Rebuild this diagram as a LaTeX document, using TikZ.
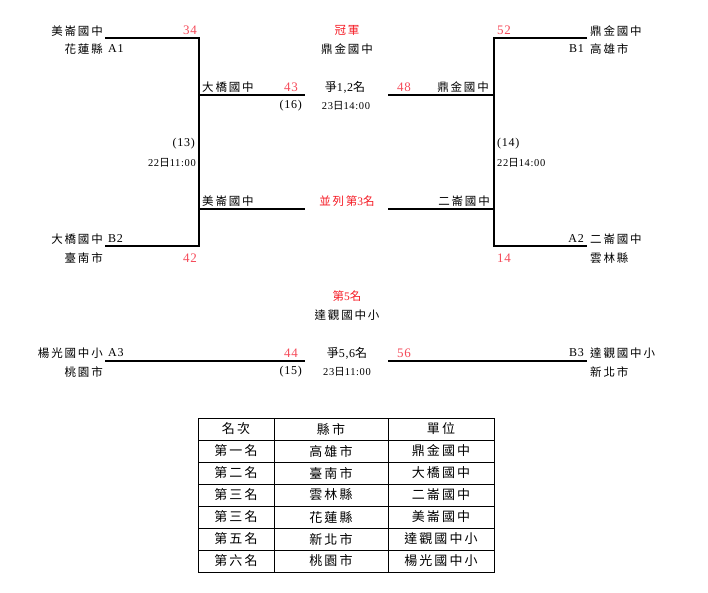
\documentclass[tikz,border=0pt]{standalone}
\usepackage{fontspec}
\setmainfont{Liberation Serif}[LetterSpace=6]
\newfontfamily\zhfont[LetterSpace=16]{Noto Sans CJK TC}
\newcommand{\zh}[1]{{\zhfont #1}}
\definecolor{scorered}{RGB}{245,75,90}
\definecolor{titlered}{RGB}{245,25,35}

\begin{document}
\begin{tikzpicture}[x=1pt, y=-1pt,
   team/.style={font=\zhfont\fontsize{11.5}{11.5}\selectfont, inner sep=0pt},
   seed/.style={font=\fontsize{12}{12}\selectfont, inner sep=0pt},
   score/.style={text=scorered, font=\fontsize{13}{13}\selectfont, inner sep=0pt},
   note/.style={font=\fontsize{10.5}{10.5}\selectfont, inner sep=0pt},
   game/.style={font=\fontsize{12}{12}\selectfont, inner sep=0pt},
   title/.style={text=titlered, font=\fontsize{11.5}{11.5}\selectfont, inner sep=0pt},
   cell/.style={font=\zhfont\fontsize{13}{13}\selectfont, inner sep=0pt},
   bracket/.style={line width=1.2pt}]
   \useasboundingbox (0,0) rectangle (708,592);

   % bracket corners
   \coordinate (A1) at (105,38);
   \coordinate (B2) at (105,246);
   \coordinate (L1) at (199,38);
   \coordinate (L2) at (199,246);
   \coordinate (L3) at (199,95);
   \coordinate (L4) at (199,209);
   \coordinate (M1) at (305,95);
   \coordinate (M2) at (305,209);
   \coordinate (M3) at (388,95);
   \coordinate (M4) at (388,209);
   \coordinate (R3) at (494,95);
   \coordinate (R4) at (494,209);
   \coordinate (R1) at (494,38);
   \coordinate (R2) at (494,246);
   \coordinate (B1) at (587,38);
   \coordinate (A2) at (587,246);
   \coordinate (A3) at (105,361);
   \coordinate (M5) at (305,361);
   \coordinate (M6) at (388,361);
   \coordinate (B3) at (587,361);

   \draw[bracket] (A1) -- (L1) -- (L2) -- (B2);
   \draw[bracket] (L3) -- (M1);
   \draw[bracket] (L4) -- (M2);
   \draw[bracket] (B1) -- (R1) -- (R2) -- (A2);
   \draw[bracket] (M3) -- (R3);
   \draw[bracket] (M4) -- (R4);
   \draw[bracket] (A3) -- (M5);
   \draw[bracket] (M6) -- (B3);

   % left half
   \node[team, anchor=east] (tA1) at (103,31) {美崙國中};
   \node[team, anchor=east] (cA1) at (103,49) {花蓮縣};
   \node[seed, anchor=west] (sA1) at (108,49) {A1};
   \node[score, anchor=east] (p34) at (197,30) {34};
   \node[team, anchor=west] (wL1) at (202,87) {大橋國中};
   \node[score, anchor=east] (p43) at (298,87) {43};
   \node[game, anchor=east] (g16) at (302,106) {(16)};
   \node[game, anchor=east] (g13) at (195,144) {(13)};
   \node[note, anchor=east] (d13) at (196,163) {22\zh{日}11:00};
   \node[team, anchor=west] (wL2) at (202,201) {美崙國中};
   \node[team, anchor=east] (tB2) at (103,239) {大橋國中};
   \node[seed, anchor=west] (sB2) at (108,239) {B2};
   \node[team, anchor=east] (cB2) at (103,258) {臺南市};
   \node[score, anchor=east] (p42) at (197,258) {42};

   % middle
   \node[title] (champ) at (347,30) {\zh{冠軍}};
   \node[team] (champT) at (347,49) {鼎金國中};
   \node[game] (g12) at (345,87) {\zh{爭}1,2\zh{名}};
   \node[note] (d12) at (346,106) {23\zh{日}14:00};
   \node[title] (third) at (347,201) {\zh{並列第}3\zh{名}};
   \node[title] (fifth) at (347,296) {\zh{第}5\zh{名}};
   \node[team] (fifthT) at (347,315) {達觀國中小};
   \node[game] (g56) at (347,353) {\zh{爭}5,6\zh{名}};
   \node[note] (d56) at (347,372) {23\zh{日}11:00};

   % right half
   \node[score, anchor=west] (p52) at (497,30) {52};
   \node[team, anchor=west] (tB1) at (590,31) {鼎金國中};
   \node[seed, anchor=east] (sB1) at (584,49) {B1};
   \node[team, anchor=west] (cB1) at (590,49) {高雄市};
   \node[score, anchor=west] (p48) at (397,87) {48};
   \node[team, anchor=east] (wR1) at (489,87) {鼎金國中};
   \node[game, anchor=west] (g14) at (497,144) {(14)};
   \node[note, anchor=west] (d14) at (497,163) {22\zh{日}14:00};
   \node[team, anchor=east] (wR2) at (490,201) {二崙國中};
   \node[seed, anchor=east] (sA2) at (584,239) {A2};
   \node[team, anchor=west] (tA2) at (590,239) {二崙國中};
   \node[score, anchor=west] (p14) at (497,258) {14};
   \node[team, anchor=west] (cA2) at (590,258) {雲林縣};

   % 5th place game
   \node[team, anchor=east] (tA3) at (103,353) {楊光國中小};
   \node[seed, anchor=west] (sA3) at (108,353) {A3};
   \node[team, anchor=east] (cA3) at (103,372) {桃園市};
   \node[score, anchor=east] (p44) at (298,353) {44};
   \node[game, anchor=east] (g15) at (302,372) {(15)};
   \node[score, anchor=west] (p56) at (397,353) {56};
   \node[seed, anchor=east] (sB3) at (584,353) {B3};
   \node[team, anchor=west] (tB3) at (590,353) {達觀國中小};
   \node[team, anchor=west] (cB3) at (590,372) {新北市};

   % ranking table
   \draw[line width=1pt] (198,418) rectangle (494,572);
   \foreach \y in {440,462,...,550}
      \draw[line width=1pt] (198,\y) -- (494,\y);
   \draw[line width=1pt] (274,418) -- (274,572);
   \draw[line width=1pt] (388,418) -- (388,572);
   \foreach \ra/\rb/\rc [count=\i] in {名次/縣市/單位, 第一名/高雄市/鼎金國中,
      第二名/臺南市/大橋國中, 第三名/雲林縣/二崙國中, 第三名/花蓮縣/美崙國中,
      第五名/新北市/達觀國中小, 第六名/桃園市/楊光國中小} {
      \node[cell] (rank\i) at (236,{407+22*\i}) {\ra};
      \node[cell] (city\i) at (331,{407+22*\i}) {\rb};
      \node[cell] (unit\i) at (441,{407+22*\i}) {\rc};
   }
\end{tikzpicture}
\end{document}
